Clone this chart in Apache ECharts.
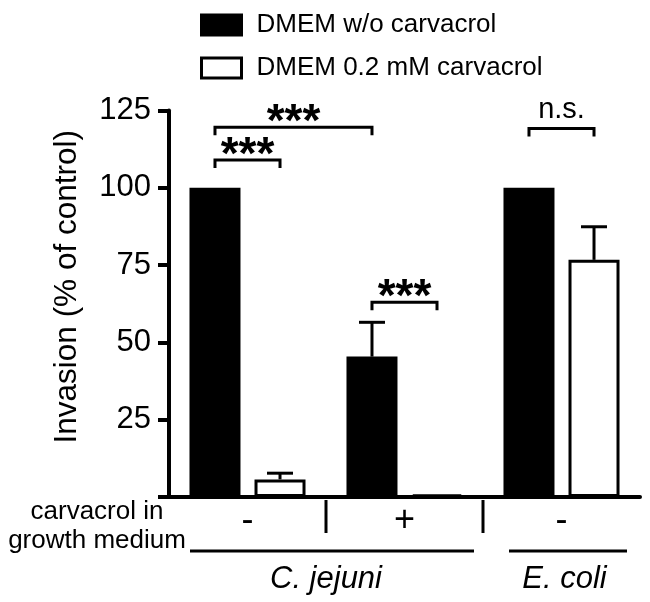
<!DOCTYPE html>
<html>
<head>
<meta charset="utf-8">
<script src="https://cdn.jsdelivr.net/npm/echarts@6/dist/echarts.min.js"></script>
<style>
html,body{margin:0;padding:0;background:#fff;}
#chart{width:650px;height:602px;}
</style>
</head>
<body>
<div id="chart"></div>
<script>
// ---- data ----
const categories = ['-', '+', '-'];
const seriesNames = ['DMEM w/o carvacrol', 'DMEM 0.2 mM carvacrol'];
const ctrlValues = [100, 45.4, 100];
const carvValues = [5.7, 0.8, 76.7];
const ctrlErr = [0, 11.1, 0];
const carvErr = [2.0, 0, 10.7];
const yMin = 0, yMax = 125, yStep = 25;
const yTitle = 'Invasion (% of control)';
const rowLabel = 'carvacrol in\ngrowth medium';
// species groups: [label, first category, last category]
const speciesGroups = [['C. jejuni', 0, 1], ['E. coli', 2, 2]];
// significance brackets: [cat1, series1, cat2, series2, level, text]
const brackets = [
  [0, 0, 1, 0, 119.6, '***'],
  [0, 0, 0, 1, 109, '***'],
  [1, 0, 1, 1, 63, '***'],
  [2, 0, 2, 1, 119.2, 'n.s.']
];

// ---- style constants ----
const FONT = 'Liberation Sans, Arial, Helvetica, sans-serif';
const BAR_W = 51, BAR_GAP = 0.275, BORDER = 3;
const OFF = BAR_W * (1 + BAR_GAP) / 2;
const CAP = 26;

const errData = [];
ctrlValues.forEach((v, i) => { if (ctrlErr[i] > 0) errData.push([i, 0, v, ctrlErr[i]]); });
carvValues.forEach((v, i) => { if (carvErr[i] > 0) errData.push([i, 1, v, carvErr[i]]); });

const chart = echarts.init(document.getElementById('chart'), null, {renderer: 'canvas'});

const option = {
  animation: false,
  backgroundColor: '#fff',
  textStyle: {fontFamily: FONT, color: '#000'},
  grid: {left: 169, right: 10, top: 110.5, bottom: 105, containLabel: false},
  legend: {
    orient: 'vertical', left: 195, top: 7, itemWidth: 40, itemHeight: 20, itemGap: 17,
    textStyle: {fontSize: 26, color: '#000', fontFamily: FONT, padding: [0, 0, 0, 10], lineHeight: 26},
    data: [
      {name: seriesNames[0], icon: 'rect', itemStyle: {color: '#000', borderColor: '#000', borderWidth: BORDER}},
      {name: seriesNames[1], icon: 'rect', itemStyle: {color: '#fff', borderColor: '#000', borderWidth: BORDER}}
    ]
  },
  xAxis: {
    type: 'category', data: categories,
    axisLine: {lineStyle: {color: '#000', width: 4}},
    axisTick: {show: false},
    axisLabel: {fontSize: 36, color: '#000', fontFamily: FONT, margin: 6},
    splitLine: {show: false}
  },
  yAxis: {
    type: 'value', min: yMin, max: yMax, interval: yStep,
    name: yTitle, nameLocation: 'middle', nameGap: 86,
    nameTextStyle: {fontSize: 31.5, color: '#000', fontFamily: FONT, padding: [0, 0, 0, 34]},
    axisLine: {show: true, lineStyle: {color: '#000', width: 4}},
    axisTick: {show: true, length: 11, lineStyle: {color: '#000', width: 4}},
    axisLabel: {fontSize: 31, color: '#000', fontFamily: FONT, margin: 18,
      formatter: v => (v === 0 ? '' : String(v))},
    splitLine: {show: false}
  },
  series: [
    {name: seriesNames[0], type: 'bar', data: ctrlValues, barWidth: BAR_W, barGap: (BAR_GAP * 100) + '%',
     itemStyle: {color: '#000', borderColor: '#000', borderWidth: BORDER}},
    {name: seriesNames[1], type: 'bar', data: carvValues, barWidth: BAR_W, barGap: (BAR_GAP * 100) + '%',
     itemStyle: {color: '#fff', borderColor: '#000', borderWidth: BORDER}},
    {
      type: 'custom', name: 'err', data: errData, z: 5,
      encode: {x: 0, y: 2},
      renderItem: function (params, api) {
        const cat = api.value(0), s = api.value(1), mean = api.value(2), err = api.value(3);
        const b = api.coord([cat, mean]);
        const t = api.coord([cat, mean + err]);
        const x = b[0] + (s === 0 ? -OFF : OFF);
        return {type: 'group', children: [
          {type: 'line', shape: {x1: x, y1: b[1], x2: x, y2: t[1]}, style: {stroke: '#000', lineWidth: 3}},
          {type: 'line', shape: {x1: x - CAP / 2, y1: t[1], x2: x + CAP / 2, y2: t[1]}, style: {stroke: '#000', lineWidth: 3}}
        ]};
      }
    },
    {
      type: 'custom', name: 'sig', data: brackets.map(b => b.slice(0, 5)), z: 6, clip: false,
      encode: {x: 0, y: 4},
      renderItem: function (params, api) {
        const b = brackets[params.dataIndex];
        const p1 = api.coord([b[0], b[4]]);
        const p2 = api.coord([b[2], b[4]]);
        const x1 = p1[0] + (b[1] === 0 ? -OFF : OFF);
        const x2 = p2[0] + (b[3] === 0 ? -OFF : OFF);
        const y = p1[1];
        const isStar = b[5] === '***';
        return {type: 'group', children: [
          {type: 'polyline', shape: {points: [[x1, y + 8], [x1, y], [x2, y], [x2, y + 8]]},
           style: {stroke: '#000', lineWidth: 3, fill: null}},
          {type: 'text', x: (x1 + x2) / 2, y: isStar ? y + 19 : y - 4,
           style: {text: b[5], fontSize: isStar ? 46 : 29, fontWeight: isStar ? 'bold' : 'normal',
                   fontFamily: FONT, fill: '#000', align: 'center', verticalAlign: 'bottom'}}
        ]};
      }
    }
  ]
};
chart.setOption(option);

// annotation row below the axis, positioned through the axis scale
function xc(i) { return chart.convertToPixel({xAxisIndex: 0}, i); }
const y0 = chart.convertToPixel({yAxisIndex: 0}, 0);
const half = (xc(1) - xc(0)) / 2;
const gfx = [];
for (let i = 0; i < categories.length - 1; i++) {
  const bx = (xc(i) + xc(i + 1)) / 2;
  gfx.push({type: 'line', shape: {x1: bx, y1: y0 + 3, x2: bx, y2: y0 + 36}, style: {stroke: '#000', lineWidth: 3}});
}
const insets = [[21, 9], [26, 13]];
speciesGroups.forEach((g, k) => {
  const left = xc(g[1]) - half, right = xc(g[2]) + half;
  gfx.push({type: 'line', shape: {x1: left + insets[k][0], y1: y0 + 54, x2: right - insets[k][1], y2: y0 + 54},
            style: {stroke: '#000', lineWidth: 3}});
  gfx.push({type: 'text', x: (left + right) / 2 + (k === 1 ? 3 : 0), y: y0 + 82,
            style: {text: g[0], fontSize: 31, fontStyle: 'italic', fontFamily: FONT, fill: '#000',
                    align: 'center', verticalAlign: 'middle'}});
});
gfx.push({type: 'text', x: 97, y: y0 + 1,
          style: {text: rowLabel, fontSize: 26, lineHeight: 28.5, fontFamily: FONT, fill: '#000',
                  align: 'center', verticalAlign: 'top'}});
chart.setOption({graphic: gfx});
</script>
</body>
</html>
